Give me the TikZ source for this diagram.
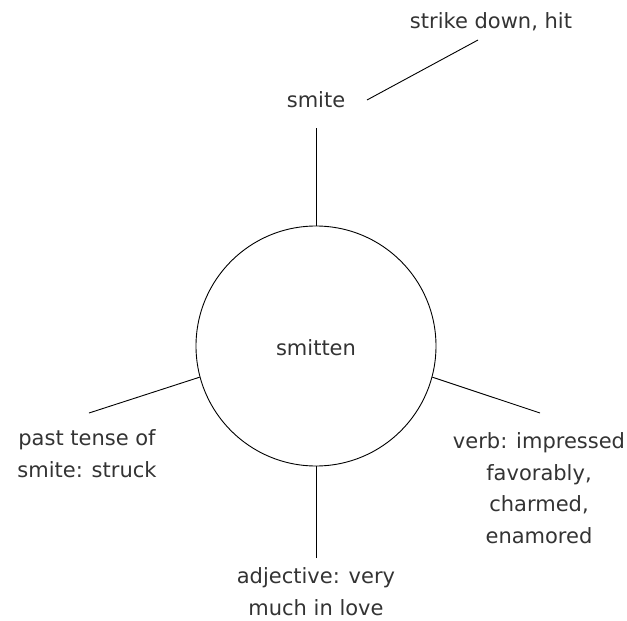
\documentclass[tikz,border=0pt]{standalone}
\usepackage{fontspec}
\setmainfont{DejaVu Sans}
\definecolor{txt}{HTML}{333333}
\begin{document}
\begin{tikzpicture}[x=1pt,y=-1pt,
  lbl/.style={text=txt,font=\fontsize{21}{31.5}\selectfont,align=center,anchor=base,inner sep=0pt},
  conn/.style={draw=black,line width=0.9pt}]
\useasboundingbox (0,0) rectangle (627,621);
\node[draw,circle,line width=0.9pt,minimum size=240pt,inner sep=0pt] (c) at (316,346) {};
\node[lbl] (center) at (316,355) {smitten};
\node[lbl] (smite) at (316,107) {smite};
\node[lbl] (strike) at (491,28) {strike down, hit};
\node[lbl] (past) at (87,477) {past tense of\\smite: struck};
\node[lbl] (verb) at (539,543) {verb: impressed\\favorably,\\charmed,\\enamored};
\node[lbl] (adj) at (316,615) {adjective: very\\much in love};
\coordinate (s1) at (367,100);
\coordinate (s2) at (478,40);
\coordinate (t1) at (316,128);
\coordinate (l1) at (89,413);
\coordinate (r1) at (540,413);
\coordinate (b1) at (316,558);
\draw[conn] (s1) -- (s2);
\draw[conn] (t1) -- (c.north);
\draw[conn] (l1) -- (c.{195});
\draw[conn] (r1) -- (c.{-15});
\draw[conn] (b1) -- (c.south);
\end{tikzpicture}
\end{document}
